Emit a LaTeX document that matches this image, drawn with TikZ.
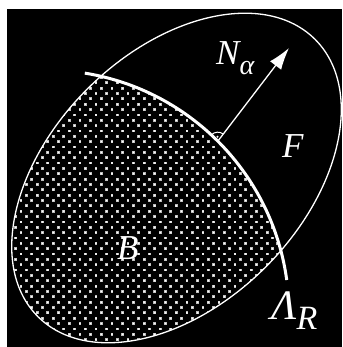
\documentclass[tikz,border=0pt]{standalone}
\usepackage{fontspec}
\setmainfont{Liberation Serif}
\usepackage{tikz}
\usetikzlibrary{arrows.meta,calc}
\newcommand{\subsz}{\fontsize{28}{30}\selectfont}

\begin{document}
\begin{tikzpicture}[x=1pt,y=1pt,>=Latex]
\tikzstyle{rim}=[draw=white, line width=1.3pt]
\tikzstyle{front}=[draw=white, line width=3pt]
\tikzstyle{lbl}=[text=white, font=\fontsize{35}{38}\selectfont\itshape, inner sep=0pt, anchor=base west]
\useasboundingbox (0,0) rectangle (342,347);
\fill[black] (7,0) rectangle (342,338);
% dotted region B, cut by the ellipse and the front circle
\begin{scope}
\clip[rotate around={45:(176.5,169)}] (176.5,169) ellipse [x radius=196, y radius=126];
\clip (46,34) circle [radius=243];
\foreach \i in {0,...,28}
  \foreach \j in {0,...,54}{
    \pgfmathsetmacro{\px}{5+\i*10.7+mod(\j,2)*5.35}
    \pgfmathsetmacro{\py}{\j*5.35+2}
    \fill[gray!55] (\px-1.4,\py-1.4) rectangle (\px+1.4,\py+1.4);
    \draw[white, line width=0.5pt] (\px-0.7,\py-0.7) -- (\px+0.7,\py+0.7)
      (\px-0.7,\py+0.7) -- (\px+0.7,\py-0.7);
  }
\end{scope}
\draw[rim, rotate around={45:(176.5,169)}] (176.5,169) ellipse [x radius=196, y radius=126];
\draw[front] (46,34) ++(80.8:243) arc [start angle=80.8, end angle=7.8, radius=243];
\coordinate (foot) at ($(46,34)+(45:243)$);
\coordinate (tip) at (289,299);
\draw[-{Latex[length=22pt,width=14pt]}, white, line width=1.3pt] (foot) -- (tip);
\draw[white, line width=1pt] (foot) ++(135:9) arc [start angle=135, end angle=52.6, radius=9];
\fill[white] ($(foot)+(94:4.5)$) circle [radius=1.1];
\node[lbl] (nalpha) at (216,282) {N\raisebox{-10pt}{\subsz α}};
\node[lbl] (flabel) at (282,189) {F};
\node[lbl] (blabel) at (117,87) {B};
\node[lbl, font=\fontsize{42}{44}\selectfont\itshape] (lambdar) at (271,27) {Λ\raisebox{-10pt}{\fontsize{34}{36}\selectfont R}};
\end{tikzpicture}
\end{document}
